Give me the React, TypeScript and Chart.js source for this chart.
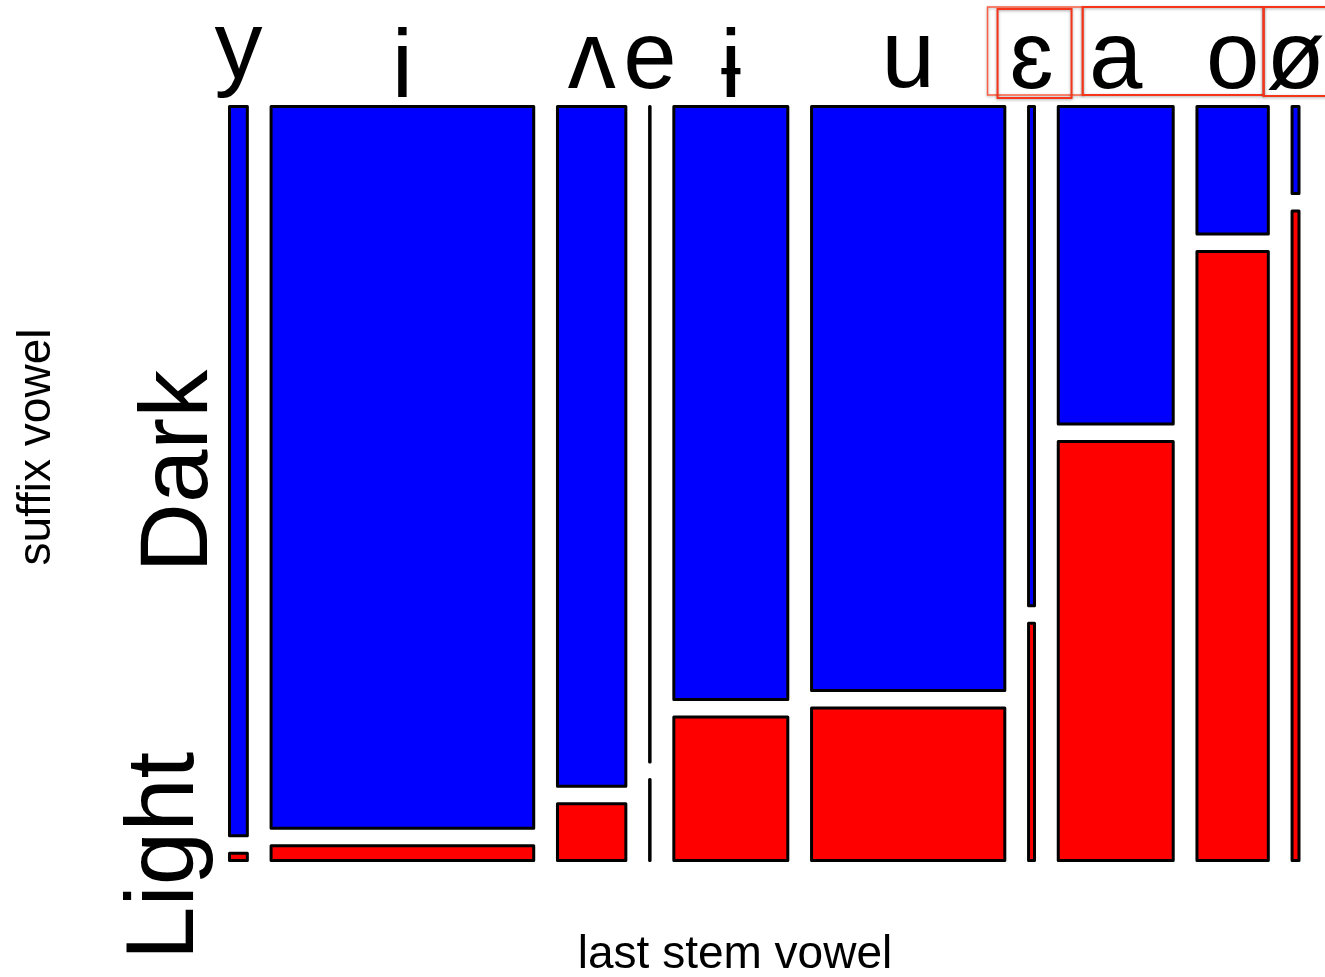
import React, { useEffect, useRef } from 'react';
import { Chart, registerables } from 'chart.js';

Chart.register(...registerables);

// ---- data ----
const categories = ['y', 'i', 'ʌ', 'e', 'ɨ', 'u', 'ɛ', 'a', 'o', 'ø'];
// relative number of items per last stem vowel (column widths)
const tokens = [18, 265, 69, 0.5, 115, 195, 6, 116, 72, 7];
// share of Dark suffix vowels per column (rest is Light)
const darkShare = [0.99, 0.98, 0.923, 0.89, 0.805, 0.793, 0.678, 0.431, 0.173, 0.118];
const levels = ['Dark', 'Light'];
const xTitle = 'last stem vowel';
const yTitle = 'suffix vowel';
// highlighted label groups (first, last category)
const highlightGroups: [string, string][] = [['ɛ', 'ɛ'], ['ɛ', 'ɛ'], ['a', 'o'], ['ø', 'ø']];

// ---- style ----
const levelColors = ['#0000ff', '#ff0000'];
const GAP_X = 0.0222;
const GAP_Y = 0.0232;
const FONT = '"Liberation Sans", Arial, Helvetica, sans-serif';

function columnGeometry() {
  const n = tokens.length;
  const total = tokens.reduce((a, b) => a + b, 0);
  const usable = 1 - GAP_X * (n - 1);
  const cols: { x0: number; x1: number }[] = [];
  let acc = 0;
  for (let i = 0; i < n; i++) {
    const x0 = acc + i * GAP_X;
    const w = (tokens[i] / total) * usable;
    cols.push({ x0, x1: x0 + w });
    acc += w;
  }
  return cols;
}

function rect(x0: number, x1: number, y0: number, y1: number) {
  return [
    { x: x0, y: y0 },
    { x: x1, y: y0 },
    { x: x1, y: y1 },
    { x: x0, y: y1 },
    { x: x0, y: y0 },
  ];
}

function buildDatasets() {
  const cols = columnGeometry();
  const ds: any[] = [];
  cols.forEach((c, i) => {
    const dark = darkShare[i];
    const avail = 1 - GAP_Y;
    const darkBottom = 1 - dark * avail;
    const lightTop = (1 - dark) * avail;
    const segs = [
      { level: 0, y0: darkBottom, y1: 1 },
      { level: 1, y0: 0, y1: lightTop },
    ];
    segs.forEach((s) => {
      ds.push({
        label: categories[i] + ' ' + levels[s.level],
        data: rect(c.x0, c.x1, s.y0, s.y1),
        showLine: true,
        fill: 'shape',
        backgroundColor: levelColors[s.level],
        borderColor: '#000000',
        borderWidth: 3,
        borderJoinStyle: 'round',
        borderCapStyle: 'round',
        pointRadius: 0,
        pointHoverRadius: 0,
        tension: 0,
        clip: false,
      });
    });
  });
  return ds;
}

const textPlugin = {
  id: 'mosaicText',
  afterDraw(chart: any) {
    const ctx: CanvasRenderingContext2D = chart.ctx;
    const xs = chart.scales.x;
    const ys = chart.scales.y;
    const cols = columnGeometry();
    const centers = cols.map((c) => xs.getPixelForValue((c.x0 + c.x1) / 2));
    ctx.save();
    ctx.fillStyle = '#000000';

    // category labels on top, ink vertically centred
    ctx.font = `96px ${FONT}`;
    ctx.textAlign = 'center';
    ctx.textBaseline = 'alphabetic';
    categories.forEach((lab, i) => {
      const m = ctx.measureText(lab);
      const by = 62 + (m.actualBoundingBoxAscent - m.actualBoundingBoxDescent) / 2;
      ctx.fillText(lab, centers[i], by);
    });

    // level labels, rotated, near first column segment centres
    const d0 = darkShare[0];
    const avail = 1 - GAP_Y;
    const segCenters = [
      (1 + (1 - d0 * avail)) / 2,
      ((1 - d0) * avail) / 2,
    ];
    const levelInkX = [172, 168];
    const levelShift = [0, 1];
    levels.forEach((lab, k) => {
      const cy = ys.getPixelForValue(segCenters[k]);
      const m = ctx.measureText(lab);
      ctx.save();
      ctx.translate(levelInkX[k], cy);
      ctx.rotate(-Math.PI / 2);
      ctx.fillText(lab, levelShift[k], (m.actualBoundingBoxAscent - m.actualBoundingBoxDescent) / 2);
      ctx.restore();
    });

    // axis titles
    ctx.font = `46px ${FONT}`;
    ctx.fillText(xTitle, 735, 968);
    ctx.save();
    ctx.translate(50, 447);
    ctx.rotate(-Math.PI / 2);
    ctx.fillText(yTitle, 0, 0);
    ctx.restore();

    // highlight boxes around labels
    const idx = (c: string) => categories.indexOf(c);
    const pads = [
      { l: 44, r: 51, t: 7, b: 95, w: 1.5, col: 'rgba(255,70,40,0.85)' },
      { l: 34, r: 40, t: 9, b: 98, w: 2, col: '#f5341a' },
      { l: 33, r: 31, t: 7, b: 95, w: 2, col: '#f5341a' },
      { l: 32, r: 45, t: 7, b: 96, w: 2, col: '#f5341a' },
    ];
    highlightGroups.forEach((g, k) => {
      const p = pads[k];
      const left = centers[idx(g[0])] - p.l;
      const right = centers[idx(g[1])] + p.r;
      ctx.save();
      ctx.shadowColor = 'rgba(0,0,0,0.35)';
      ctx.shadowBlur = 3;
      ctx.shadowOffsetY = 1;
      ctx.strokeStyle = p.col;
      ctx.lineWidth = p.w;
      ctx.strokeRect(left, p.t, right - left, p.b - p.t);
      ctx.restore();
    });
    ctx.restore();
  },
};

export default function App() {
  const ref = useRef<HTMLCanvasElement | null>(null);
  useEffect(() => {
    document.body.style.margin = '0';
    const canvas = ref.current;
    if (!canvas) return;
    const chart = new Chart(canvas, {
      type: 'scatter',
      data: { datasets: buildDatasets() },
      options: {
        animation: false,
        responsive: false,
        devicePixelRatio: 1,
        layout: { padding: { left: 229.5, right: 26, top: 106.5, bottom: 116.5 } },
        scales: {
          x: { type: 'linear', min: 0, max: 1, display: false },
          y: { type: 'linear', min: 0, max: 1, display: false },
        },
        plugins: {
          legend: { display: false },
          tooltip: { enabled: false },
        },
        events: [],
      } as any,
      plugins: [textPlugin],
    });
    return () => chart.destroy();
  }, []);
  return (
    <div style={{ width: 1325, height: 977, background: '#ffffff' }}>
      <canvas ref={ref} width={1325} height={977} />
    </div>
  );
}
